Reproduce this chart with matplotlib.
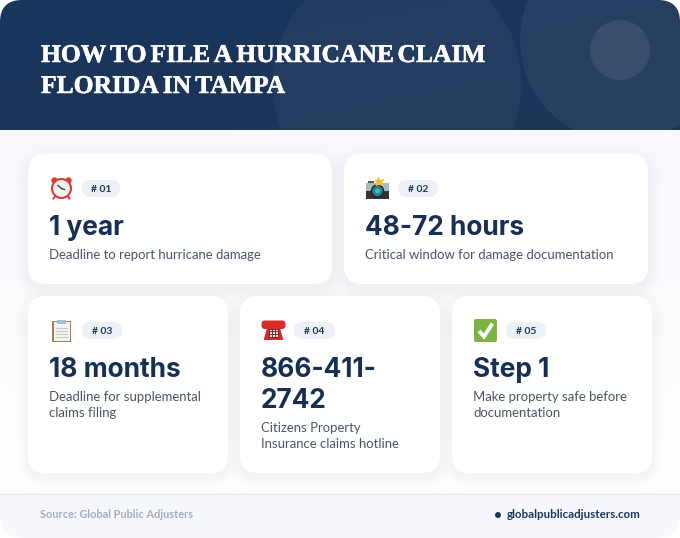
import numpy as np
import matplotlib
matplotlib.use("Agg")
import matplotlib.pyplot as plt
import matplotlib.patheffects as pe
from matplotlib.patches import FancyBboxPatch, Circle, Rectangle, Polygon

title_lines = ["HOW TO FILE A HURRICANE CLAIM", "FLORIDA IN TAMPA"]
tags = ["# 01", "# 02", "# 03", "# 04", "# 05"]
values = [["1 year"], ["48-72 hours"], ["18 months"], ["866-411-", "2742"], ["Step 1"]]
descs = [["Deadline to report hurricane damage"],
         ["Critical window for damage documentation"],
         ["Deadline for supplemental", "claims filing"],
         ["Citizens Property", "Insurance claims hotline"],
         ["Make property safe before", "documentation"]]
icons = ["clock", "camera", "clipboard", "phone", "check"]
source = "Source: Global Public Adjusters"
site = "globalpublicadjusters.com"

card_x = [28, 344, 28, 240, 452]
card_y = [154, 154, 296, 296, 296]
card_w = [304, 304, 200, 200, 200]
card_h = [130, 130, 177, 177, 177]
pill_w = [38, 40, 40, 41, 40]

NAVY = "#1a365d"
VALC = "#182f54"
BODY = "Lato"
VAL = "Inter"

fig = plt.figure(figsize=(6.8, 5.38), dpi=100, facecolor="white")
ax = fig.add_axes([0, 0, 1, 1])
ax.set_xlim(0, 680); ax.set_ylim(538, 0); ax.axis("off")


def rrect(x, y, w, h, r, **kw):
    p = FancyBboxPatch((x + r, y + r), w - 2 * r, h - 2 * r,
                       boxstyle=f"round,pad={r},rounding_size={r}", linewidth=kw.pop("lw", 0), **kw)
    ax.add_patch(p)
    return p


def grad(c1, c2, extent, clip, vertical=False, z=1):
    c1 = np.array(matplotlib.colors.to_rgb(c1)); c2 = np.array(matplotlib.colors.to_rgb(c2))
    yy, xx = np.mgrid[0:1:120j, 0:1:120j]
    t = yy if vertical else (xx + yy) / 2
    img = c1[None, None, :] * (1 - t[..., None]) + c2[None, None, :] * t[..., None]
    im = ax.imshow(img, extent=extent, aspect="auto", zorder=z, interpolation="bilinear")
    im.set_clip_path(clip)
    ax.set_xlim(0, 680); ax.set_ylim(538, 0)


# page
page = rrect(0, 0, 680, 538, 22, fc="none", zorder=0)
grad("#f8f8fe", "#ffffff", (0, 680, 493, 130), page, vertical=True, z=1)

# header
hclip = FancyBboxPatch((22, 22), 636, 140, boxstyle="round,pad=22,rounding_size=22", fc="none", lw=0)
ax.add_patch(hclip)
grad("#1a365d", "#1d3557", (0, 680, 130, 0), hclip, z=2)
ax.add_patch(Rectangle((0, 130), 680, 40, fc="#f8f8fe", lw=0, zorder=2.5))
for (cx, cy, r, a) in [(397, 84, 124.5, 0.04), (622, 40, 102, 0.05), (620, 50, 30, 0.08)]:
    c = Circle((cx, cy), r, fc="white", alpha=a, lw=0, zorder=2.2)
    ax.add_patch(c)
    c.set_clip_path(hclip)

# title: words placed one by one for the display face's tight word spacing
renderer = fig.canvas.get_renderer()
for line, y in zip(title_lines, [62, 93]):
    x = 41.0
    for word in line.split(" "):
        t = ax.text(x, y, word, color="white", fontsize=18.4, fontweight="bold", family="Liberation Serif",
                    va="baseline", ha="left", zorder=5,
                    path_effects=[pe.withStroke(linewidth=0.4, foreground="white")])
        x += t.get_window_extent(renderer).width + 4.0

# footer
fclip = FancyBboxPatch((22, 420), 636, 96, boxstyle="round,pad=22,rounding_size=22", fc="none", lw=0)
ax.add_patch(fclip)
fr = Rectangle((0, 493), 680, 45, fc="#f7f8fd", lw=0, zorder=3)
ax.add_patch(fr); fr.set_clip_path(fclip)
ax.plot([0, 680], [493.5, 493.5], color="#e6e9f0", lw=0.8, zorder=4)
ax.text(40, 518, source, color="#a0aec0", fontsize=7.95, fontweight="bold", family=BODY, va="baseline", zorder=5)
ax.add_patch(Circle((498, 515), 3, fc=NAVY, lw=0, zorder=5))
ax.text(507, 518, site, color=NAVY, fontsize=8.3, fontweight="bold", family=BODY, va="baseline", zorder=5)


def icon(kind, cx, cy):
    z = 8
    if kind == "clock":
        ax.add_patch(Circle((cx - 7, cy - 8), 3.2, fc="#e53935", lw=0, zorder=z))
        ax.add_patch(Circle((cx + 7, cy - 8), 3.2, fc="#e53935", lw=0, zorder=z))
        ax.plot([cx - 6, cx - 8], [cy + 7, cy + 10], color="#e53935", lw=1.4, zorder=z)
        ax.plot([cx + 6, cx + 8], [cy + 7, cy + 10], color="#e53935", lw=1.4, zorder=z)
        ax.add_patch(Circle((cx, cy), 9.5, fc="#f6f4ee", ec="#e53935", lw=1.5, zorder=z + 1))
        ax.plot([cx, cx - 3.5, ], [cy, cy - 3], color="#333333", lw=0.9, zorder=z + 2)
        ax.plot([cx, cx + 3], [cy, cy + 1], color="#333333", lw=0.9, zorder=z + 2)
    elif kind == "camera":
        ax.add_patch(Rectangle((cx - 11.5, cy - 6), 23, 8, fc="#a9bcc4", lw=0, zorder=z))
        ax.add_patch(Rectangle((cx - 11.5, cy + 2), 23, 8.5, fc="#333333", lw=0, zorder=z))
        ax.add_patch(Rectangle((cx - 10, cy - 8), 6, 2, fc="#555555", lw=0, zorder=z))
        ax.add_patch(Circle((cx, cy + 2.5), 6, fc="#26808f", ec="#222222", lw=1, zorder=z + 1))
        ax.add_patch(Circle((cx, cy + 2.5), 2.5, fc="#4fb3c4", lw=0, zorder=z + 2))
        star = [(cx + 1, cy - 12), (cx + 2.5, cy - 8.5), (cx + 7, cy - 9.5), (cx + 4.5, cy - 6), (cx + 6, cy - 2.5),
                (cx + 1.5, cy - 3.5), (cx - 2, cy - 2.5), (cx - 1, cy - 6), (cx - 4, cy - 9), (cx - 0.5, cy - 8.5)]
        ax.add_patch(Polygon(star, fc="#fbb92f", lw=0, zorder=z + 3))
    elif kind == "clipboard":
        ax.add_patch(Rectangle((cx - 9.5, cy - 9.5), 19, 21, fc="#b97a45", lw=0, zorder=z))
        ax.add_patch(Rectangle((cx - 8, cy - 8.5), 16, 18.5, fc="#f3f5f5", lw=0, zorder=z + 1))
        ax.add_patch(Rectangle((cx - 4.5, cy - 11), 9, 4, fc="#9cc3d5", lw=0, zorder=z + 2))
        for dy in (-3, 0, 3, 6):
            ax.plot([cx - 5.5, cx + 5.5], [cy + dy, cy + dy], color="#c4cbd0", lw=0.8, zorder=z + 2)
    elif kind == "phone":
        rrect(cx - 12, cy - 10, 24, 8.5, 3.5, fc="#d92b2b", zorder=z)
        ax.add_patch(Polygon([(cx - 6, cy - 4), (cx + 6, cy - 4), (cx + 9.5, cy + 8), (cx + 9.5, cy + 9.5),
                              (cx - 9.5, cy + 9.5), (cx - 9.5, cy + 8)], fc="#d92b2b", lw=0, zorder=z))
        ax.add_patch(Rectangle((cx - 4.5, cy - 2), 9, 8, fc="#efe7df", ec="#5a2020", lw=0.6, zorder=z + 1))
        for d in (-1.5, 1.5):
            ax.plot([cx + d, cx + d], [cy - 2, cy + 6], color="#5a2020", lw=0.6, zorder=z + 2)
        for d in (0.7, 3.3):
            ax.plot([cx - 4.5, cx + 4.5], [cy + d, cy + d], color="#5a2020", lw=0.6, zorder=z + 2)
    else:
        rrect(cx - 11.5, cy - 11.5, 23, 23, 2, fc="#7cb342", zorder=z)
        ax.plot([cx - 6.5, cx - 1.5, cx + 7], [cy + 0.5, cy + 6, cy - 7], color="white", lw=2.8,
                solid_capstyle="butt", solid_joinstyle="miter", zorder=z + 1)


for i in range(5):
    x, y, w, h = card_x[i], card_y[i], card_w[i], card_h[i]
    for grow, a in [(14, 0.005), (10, 0.006), (7, 0.007), (4, 0.008), (2, 0.009)]:
        rrect(x - grow, y - grow + 5, w + 2 * grow, h + 2 * grow, 20 + grow, fc="#1a365d", alpha=a, zorder=3)
    rrect(x, y, w, h, 18, fc="white", zorder=4)
    tx = x + 21
    icon(icons[i], tx + 12.5, y + 34.5)
    rrect(tx + 33, y + 26, pill_w[i], 17, 8.5, fc="#edf0f5", zorder=5)
    ax.text(tx + 33 + pill_w[i] / 2, y + 38, tags[i], color=NAVY, fontsize=7.4, fontweight="bold",
            family=BODY, ha="center", va="baseline", zorder=6)
    vy = y + 81
    for line in values[i]:
        ax.text(tx, vy, line, color=VALC, fontsize=18.9, fontweight="bold", family=VAL, ha="left", va="baseline",
                zorder=6)
        vy += 31
    dy = vy - 31 + 23.7
    for line in descs[i]:
        ax.text(tx, dy, line, color="#4a5568", fontsize=9.45, family=BODY, ha="left", va="baseline", zorder=6)
        dy += 16.5

fig.savefig("out.png", dpi=100, facecolor="white")
